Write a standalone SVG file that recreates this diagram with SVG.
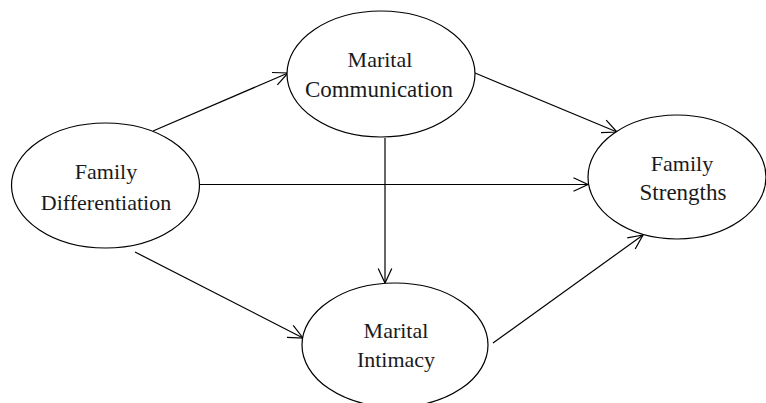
<svg xmlns="http://www.w3.org/2000/svg" width="766" height="403" viewBox="0 0 766 403">
<style>
.node ellipse{fill:#fff;stroke:#000;stroke-width:1.2}
.node text{font-family:"Liberation Serif","Times New Roman",serif;font-size:22px;fill:#1a1a1a;text-anchor:middle}
.edges line{stroke:#000;stroke-width:1.2;fill:none}
</style>
<defs>
<marker id="arr" markerUnits="userSpaceOnUse" markerWidth="20" markerHeight="20" refX="16" refY="8" orient="auto" viewBox="0 0 20 16">
<path d="M1.5,1.2 L16,8 L1.5,14.8" fill="none" stroke="#000" stroke-width="1.2"/>
</marker>
</defs>
<rect width="766" height="403" fill="#fff"/>
<g id="edges" class="edges">
<line x1="153" y1="131" x2="288" y2="73" marker-end="url(#arr)"/>
<line x1="475" y1="73" x2="617" y2="132" marker-end="url(#arr)"/>
<line x1="199" y1="184.5" x2="588" y2="184.5" marker-end="url(#arr)"/>
<line x1="385" y1="138" x2="385" y2="283" marker-end="url(#arr)"/>
<line x1="135" y1="252" x2="303" y2="338" marker-end="url(#arr)"/>
<line x1="493" y1="343" x2="643" y2="235" marker-end="url(#arr)"/>
</g>
<g id="family-differentiation" class="node">
<ellipse cx="105.5" cy="185.5" rx="94" ry="62.5"/>
<text x="106" y="179">Family</text>
<text x="106" y="210">Differentiation</text>
</g>
<g id="marital-communication" class="node">
<ellipse cx="381" cy="74" rx="94" ry="63"/>
<text x="380" y="67">Marital</text>
<text x="379" y="97" style="font-size:23px">Communication</text>
</g>
<g id="family-strengths" class="node">
<ellipse cx="677" cy="177" rx="89" ry="62"/>
<text x="682" y="171">Family</text>
<text x="683" y="200" style="font-size:23px">Strengths</text>
</g>
<g id="marital-intimacy" class="node">
<ellipse cx="395" cy="345" rx="93" ry="62"/>
<text x="396" y="338">Marital</text>
<text x="396" y="367">Intimacy</text>
</g>
</svg>
